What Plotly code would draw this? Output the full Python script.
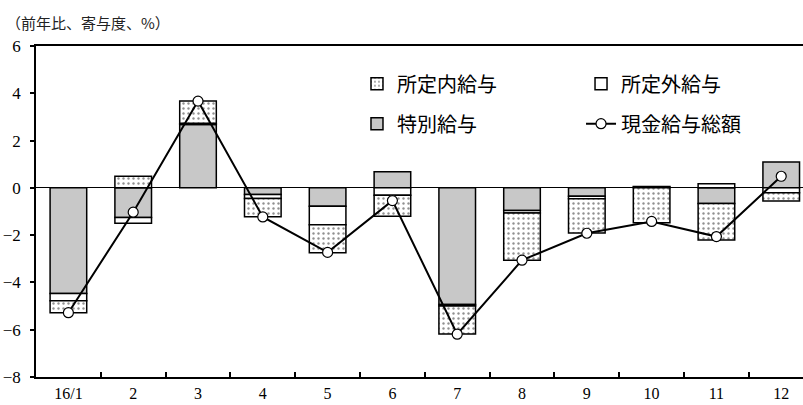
import plotly.graph_objects as go

months = ["16/1", "2", "3", "4", "5", "6", "7", "8", "9", "10", "11", "12"]
special = [-4.47, -1.25, 2.68, -0.28, -0.78, 0.68, -4.93, -0.96, -0.35, 0.03, -0.66, 1.09]
overtime = [-0.31, -0.25, 0.05, -0.17, -0.78, -0.31, -0.07, -0.10, -0.11, 0.03, 0.17, -0.21]
scheduled = [-0.50, 0.49, 0.94, -0.77, -1.18, -0.89, -1.18, -2.00, -1.45, -1.48, -1.55, -0.35]
total = [-5.28, -1.03, 3.67, -1.23, -2.73, -0.54, -6.19, -3.06, -1.92, -1.42, -2.06, 0.49]

y_ticks = [6, 4, 2, 0, -2, -4, -6, -8]

JP = "Noto Sans CJK JP"
NUM = "Liberation Serif, DejaVu Serif, serif"
outline = dict(color="black", width=1.5)

fig = go.Figure()
fig.add_trace(go.Bar(
    x=months, y=special, name="特別給与",
    marker=dict(color="#c8c8c8", line=outline),
    legend="legend", legendrank=2, legendgroup="b",
))
fig.add_trace(go.Bar(
    x=months, y=overtime, name="所定外給与",
    marker=dict(color="white", line=outline),
    legend="legend2", legendrank=1, legendgroup="c",
))
fig.add_trace(go.Bar(
    x=months, y=scheduled, name="所定内給与",
    marker=dict(color="white", line=outline,
                pattern=dict(shape=".", size=5, solidity=0.18,
                             fgcolor="#222", bgcolor="white")),
    legend="legend", legendrank=1, legendgroup="a",
))
fig.add_trace(go.Scatter(
    x=months, y=total, name="現金給与総額", mode="lines+markers",
    line=dict(color="black", width=2),
    marker=dict(symbol="circle", size=10, color="white",
                line=dict(color="black", width=1.2)),
    legend="legend2", legendrank=2, legendgroup="d",
))

legend_common = dict(
    font=dict(family=JP, size=20, color="black"),
    bgcolor="rgba(0,0,0,0)", borderwidth=0,
    traceorder="grouped", tracegroupgap=11,
    xref="paper", yref="paper",
    xanchor="left", yanchor="top",
)

fig.update_layout(
    width=803, height=405,
    margin=dict(l=36, r=0, t=46, b=28, autoexpand=False),
    paper_bgcolor="white", plot_bgcolor="white",
    barmode="relative", bargap=0.435,
    showlegend=True,
    legend=dict(x=0.4185, y=0.945, **legend_common),
    legend2=dict(x=0.7106, y=0.945, **legend_common),
    xaxis=dict(
        type="category", range=[-0.5, 11.336],
        showline=True, linecolor="black", linewidth=1.5, mirror=True,
        ticks="inside", ticklen=5, tickcolor="black", tickwidth=1.5,
        tickson="boundaries", showgrid=False, tickangle=0,
        ticklabelstandoff=1,
        tickfont=dict(family=NUM, size=16, color="black"),
    ),
    yaxis=dict(
        range=[-8, 6], tickvals=y_ticks,
        showline=True, linecolor="black", linewidth=1.5,
        ticks="outside", ticklen=4, tickcolor="black", tickwidth=1.5,
        ticklabelstandoff=6,
        showgrid=False, zeroline=True, zerolinecolor="black", zerolinewidth=1.2,
        tickfont=dict(family=NUM, size=17, color="black"),
    ),
    annotations=[dict(
        text="（前年比、寄与度、%）", xref="paper", yref="paper",
        x=-0.042, y=1.0725, xanchor="left", yanchor="middle", showarrow=False,
        font=dict(family=JP, size=15, color="#222"),
    )],
)

fig.write_html("out.html")
